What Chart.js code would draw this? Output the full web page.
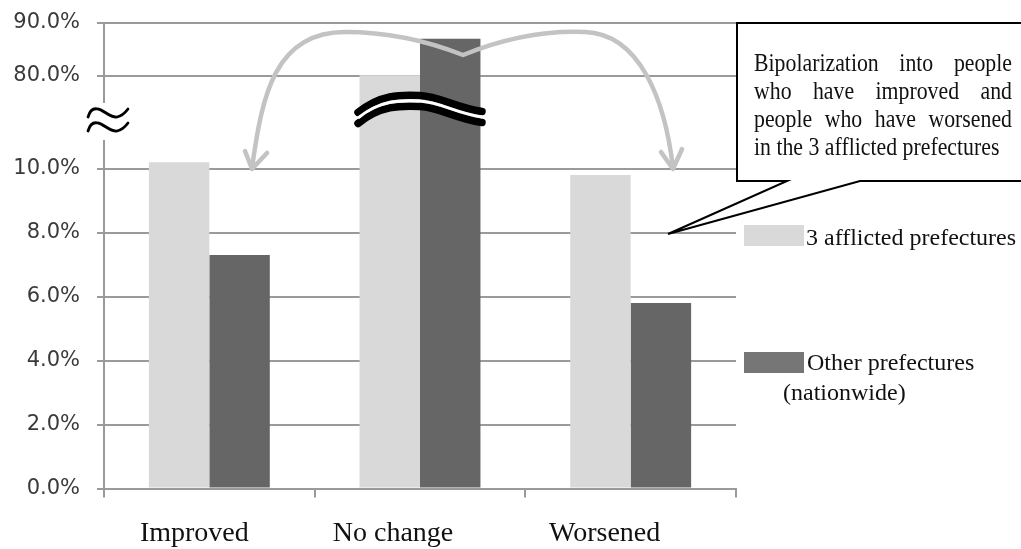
<!DOCTYPE html>
<html><head><meta charset="utf-8">
<script src="https://cdn.jsdelivr.net/npm/chart.js@4.4.0/dist/chart.umd.min.js"></script>
<style>html,body{margin:0;padding:0;background:#fff}#wrap{width:1021px;height:549px;position:relative}</style>
</head><body><div id="wrap"><canvas id="c" width="1021" height="549"></canvas></div>
<script>
// ---- data ----
const categories = ['Improved', 'No change', 'Worsened'];
const afflicted = [10.2, 80.1, 9.8];
const otherPref = [7.3, 87.0, 5.8];
const tickValues = [0, 2, 4, 6, 8, 10, 80, 90];
const seriesNames = ['3 afflicted prefectures', 'Other prefectures (nationwide)'];
const legendLines = [['3 afflicted prefectures'], ['Other prefectures', '(nationwide)']];
const calloutLines = ['Bipolarization into people', 'who have improved and', 'people who have worsened', 'in the 3 afflicted prefectures'];

// broken value axis: 0-10 % linear, then a gap, then 80-90 % compressed
const LOW_MAX = 10, HIGH_MIN = 80, GAP = 2.903, HIGH_SCALE = 0.1652;
function toAxis(v) { return v < 50 ? v : LOW_MAX + GAP + (v - HIGH_MIN) * HIGH_SCALE; }

const grey = '#9a9a9a';
const lightCol = '#d9d9d9', darkCol = '#666666';

function justify(c, text, x0, x1, y, last, sx) {
  c.save(); c.translate(x0, y); c.scale(sx, 1);
  const words = text.split(' ');
  if (last || words.length < 2) { c.fillText(text, 0, 0); c.restore(); return; }
  const w = words.reduce((s, t) => s + c.measureText(t).width, 0);
  const gap = ((x1 - x0) / sx - w) / (words.length - 1);
  let x = 0;
  words.forEach(t => { c.fillText(t, x, 0); x += c.measureText(t).width + gap; });
  c.restore();
}

const overlay = {
  id: 'overlay',
  afterDraw(chart) {
    const c = chart.ctx, xs = chart.scales.x;
    c.save();
    // category labels
    c.font = '28px "Liberation Serif"'; c.fillStyle = '#111'; c.textAlign = 'center'; c.textBaseline = 'alphabetic';
    const labelShift = [-15, -27, -26];
    categories.forEach((t, i) => c.fillText(t, xs.getPixelForValue(i) + labelShift[i], 541));

    // axis break on the value axis
    c.fillStyle = '#fff'; c.fillRect(99, 103, 11, 37);
    c.strokeStyle = '#000'; c.lineWidth = 2.8; c.lineCap = 'round';
    [0, 14].forEach(dy => {
      c.beginPath();
      c.moveTo(88, 117 + dy);
      c.bezierCurveTo(90, 110 + dy, 94, 108 + dy, 98, 109 + dy);
      c.bezierCurveTo(104, 110 + dy, 110, 118 + dy, 117, 117 + dy);
      c.bezierCurveTo(122, 116 + dy, 125, 113 + dy, 128, 109 + dy);
      c.stroke();
    });

    // curved double arrow
    c.strokeStyle = '#c3c3c3'; c.lineWidth = 4.5; c.lineCap = 'round'; c.lineJoin = 'round';
    c.beginPath();
    c.moveTo(252, 168);
    c.bezierCurveTo(262, 95, 275, 32, 345, 32);
    c.bezierCurveTo(390, 32, 430, 42, 463, 55);
    c.bezierCurveTo(500, 40, 540, 30, 585, 32);
    c.bezierCurveTo(640, 34, 665, 100, 673, 168);
    c.stroke();
    c.beginPath(); c.moveTo(245, 151); c.lineTo(252, 169); c.lineTo(267, 153); c.stroke();
    c.beginPath(); c.moveTo(661, 152); c.lineTo(673, 169); c.lineTo(682, 149); c.stroke();

    // wavy break across the "No change" bars
    const wave = (dy) => {
      c.beginPath();
      c.moveTo(358, 118 + dy);
      c.bezierCurveTo(380, 100 + dy, 400, 100 + dy, 420, 101 + dy);
      c.bezierCurveTo(440, 102 + dy, 455, 113 + dy, 482, 117 + dy);
      c.stroke();
    };
    c.strokeStyle = '#000'; c.lineWidth = 7.5; c.lineCap = 'round';
    wave(-5.5); wave(5.5);
    c.strokeStyle = '#fff'; c.lineWidth = 3; c.lineCap = 'butt';
    wave(0);

    // callout box with tail
    c.beginPath();
    c.moveTo(787, 181); c.lineTo(737, 181); c.lineTo(737, 23); c.lineTo(1030, 23);
    c.lineTo(1030, 181); c.lineTo(860, 181); c.lineTo(668, 234); c.closePath();
    c.fillStyle = '#fff'; c.fill();
    c.strokeStyle = '#000'; c.lineWidth = 2; c.lineJoin = 'miter'; c.stroke();
    c.font = '24.5px "Liberation Serif"'; c.fillStyle = '#111'; c.textAlign = 'left';
    calloutLines.forEach((t, i) => justify(c, t, 754, 1012, 71 + 28 * i, i === calloutLines.length - 1, 0.89));

    // legend
    const ds = chart.data.datasets;
    c.font = '24px "Liberation Serif"';
    c.fillStyle = ds[0].backgroundColor; c.fillRect(744, 225, 60, 21);
    c.fillStyle = '#767676'; c.fillRect(744, 352, 60, 21);
    c.fillStyle = '#111';
    c.fillText(legendLines[0][0], 806, 245);
    c.fillText(legendLines[1][0], 807, 370);
    c.fillText(legendLines[1][1], 783, 400);
    c.restore();
  }
};

new Chart(document.getElementById('c').getContext('2d'), {
  type: 'bar',
  data: {
    labels: categories,
    datasets: [
      { label: seriesNames[0], data: afflicted.map(toAxis), backgroundColor: lightCol, categoryPercentage: 0.574, barPercentage: 1 },
      { label: seriesNames[1], data: otherPref.map(toAxis), backgroundColor: darkCol, categoryPercentage: 0.574, barPercentage: 1 }
    ]
  },
  options: {
    responsive: false, animation: false,
    layout: { padding: { left: 0, right: 285, top: 23, bottom: 0 } },
    plugins: { legend: { display: false }, tooltip: { enabled: false } },
    scales: {
      x: {
        grid: { display: true, drawOnChartArea: false, offset: true, tickLength: 9, color: grey, lineWidth: 2 },
        border: { display: true, color: grey, width: 2 },
        ticks: { display: false },
        afterFit(s) { s.height = 60.5; s.paddingLeft = 0; s.paddingRight = 0; }
      },
      y: {
        min: 0, max: toAxis(90),
        afterBuildTicks(s) { s.ticks = tickValues.map(v => ({ value: toAxis(v) })); },
        ticks: {
          callback: (val, i) => tickValues[i].toFixed(1) + '%',
          font: { family: 'DejaVu Sans', size: 21 }, color: '#3a3a3a', padding: 17, autoSkip: false
        },
        grid: { color: grey, lineWidth: 2, tickLength: 7 },
        border: { color: grey, width: 2 },
        afterFit(s) { s.width = 104; s.paddingTop = 0; s.paddingBottom = 0; }
      }
    }
  },
  plugins: [overlay]
});
</script></body></html>
